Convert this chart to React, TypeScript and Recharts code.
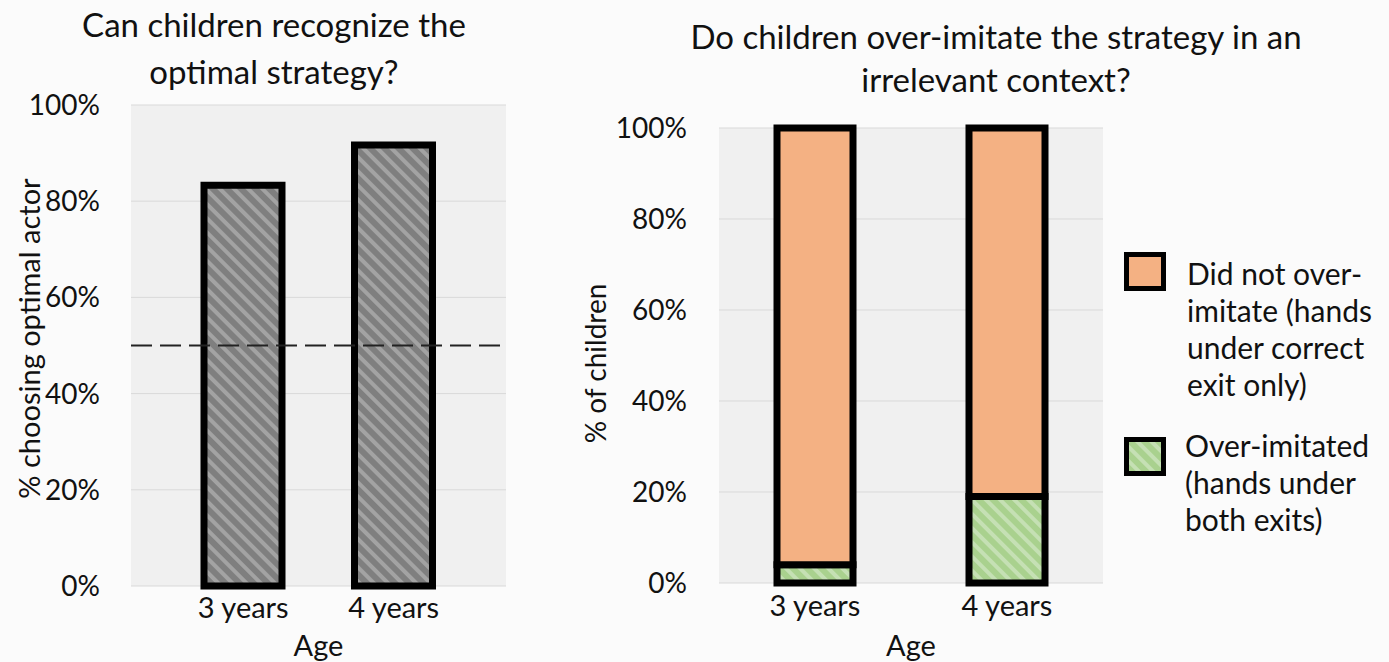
import React from "react";
import {
  Bar,
  BarChart,
  CartesianGrid,
  Label,
  ReferenceLine,
  XAxis,
  YAxis,
} from "recharts";

// data
const ages = ["3 years", "4 years"];
const optimalPct = [83.3, 91.7];
const overImitatedPct = [4, 19];
const notOverImitatedPct = [96, 81];
const yTicks = [0, 20, 40, 60, 80, 100];
const chanceLevel = 50;

const leftTitle = ["Can children recognize the", "optimal strategy?"];
const rightTitle = ["Do children over-imitate the strategy in an", "irrelevant context?"];
const legendNotOver = ["Did not over-", "imitate (hands", "under correct", "exit only)"];
const legendOver = ["Over-imitated", "(hands under", "both exits)"];

const leftData = ages.map((age, i) => ({ age, optimal: optimalPct[i] }));
const rightData = ages.map((age, i) => ({
  age,
  over: overImitatedPct[i],
  notOver: notOverImitatedPct[i],
}));

const FONT = "Lato, 'Open Sans', sans-serif";
const TXT = "#111";
const yTickStyle = { fontSize: 28, fill: TXT, fontFamily: FONT };
const xTickStyle = { fontSize: 29, fill: TXT, fontFamily: FONT };
const pct = (v: number) => `${v}%`;

const Hatch = ({ id, base, light }: { id: string; base: string; light: string }) => (
  <pattern
    id={id}
    patternUnits="userSpaceOnUse"
    width={10}
    height={10}
    patternTransform="rotate(-45)"
  >
    <rect x={0} y={0} width={10} height={10} fill={base} />
    <rect x={0} y={0} width={4} height={10} fill={light} />
  </pattern>
);

const App = () => {
  return (
    <div
      style={{
        position: "absolute",
        left: 0,
        top: 0,
        width: 1389,
        height: 662,
        background: "#fbfbfb",
        fontFamily: FONT,
        overflow: "hidden",
      }}
    >
      <div style={{ position: "absolute", left: 0, top: 0 }}>
        <BarChart
          width={560}
          height={662}
          data={leftData}
          margin={{ top: 105, right: 54, bottom: 0, left: 0 }}
        >
          <defs>
            <Hatch id="grayHatch" base="#7f7f7f" light="#a3a3a3" />
          </defs>
          <CartesianGrid vertical={false} stroke="#d9d9d9" fill="#f0f0f0" />
          <XAxis
            dataKey="age"
            height={76}
            axisLine={false}
            tickLine={false}
            tickSize={0}
            tickMargin={11}
            padding={{ left: 37, right: 37 }}
            tick={xTickStyle}
          >
            <Label
              value="Age"
              position="insideBottom"
              offset={6}
              style={{ fontSize: 29, fill: TXT, fontFamily: FONT }}
            />
          </XAxis>
          <YAxis
            width={131}
            domain={[0, 100]}
            ticks={yTicks}
            tickFormatter={pct}
            axisLine={false}
            tickLine={false}
            tickSize={0}
            tickMargin={31}
            tick={yTickStyle}
          >
            <Label
              value="% choosing optimal actor"
              angle={-90}
              position="insideLeft"
              offset={30}
              dy={-7}
              style={{ textAnchor: "middle", fontSize: 29, fill: TXT, fontFamily: FONT }}
            />
          </YAxis>
          <Bar
            dataKey="optimal"
            barSize={78}
            fill="url(#grayHatch)"
            stroke="#000"
            strokeWidth={7}
            isAnimationActive={false}
          />
          <ReferenceLine
            y={chanceLevel}
            stroke="#222"
            strokeWidth={2}
            strokeDasharray="21 8"
          />
        </BarChart>
      </div>

      <div style={{ position: "absolute", left: 540, top: 0 }}>
        <BarChart
          width={600}
          height={662}
          data={rightData}
          margin={{ top: 128, right: 37, bottom: 0, left: 0 }}
        >
          <defs>
            <Hatch id="greenHatch" base="#a9d18e" light="#c5e0b4" />
          </defs>
          <CartesianGrid vertical={false} stroke="#d9d9d9" fill="#f0f0f0" />
          <XAxis
            dataKey="age"
            height={79}
            axisLine={false}
            tickLine={false}
            tickSize={0}
            tickMargin={12}
            tick={xTickStyle}
          >
            <Label
              value="Age"
              position="insideBottom"
              offset={6}
              style={{ fontSize: 29, fill: TXT, fontFamily: FONT }}
            />
          </XAxis>
          <YAxis
            width={179}
            domain={[0, 100]}
            ticks={yTicks}
            tickFormatter={pct}
            axisLine={false}
            tickLine={false}
            tickSize={0}
            tickMargin={32}
            tick={yTickStyle}
          >
            <Label
              value="% of children"
              angle={-90}
              position="insideLeft"
              offset={56}
              dy={8}
              style={{ textAnchor: "middle", fontSize: 28, fill: TXT, fontFamily: FONT }}
            />
          </YAxis>
          <Bar
            dataKey="over"
            stackId="a"
            barSize={76}
            fill="url(#greenHatch)"
            stroke="#000"
            strokeWidth={7}
            isAnimationActive={false}
          />
          <Bar
            dataKey="notOver"
            stackId="a"
            barSize={76}
            fill="#f4b183"
            stroke="#000"
            strokeWidth={7}
            isAnimationActive={false}
          />
        </BarChart>
      </div>

      {/* titles and legend */}
      <svg
        width={1389}
        height={662}
        style={{ position: "absolute", left: 0, top: 0, pointerEvents: "none" }}
      >
        <defs>
          <Hatch id="legendGreen" base="#a9d18e" light="#c5e0b4" />
        </defs>
        <g fontFamily={FONT} fontSize={33} fill={TXT} textAnchor="middle">
          <text x={274} y={37}>{leftTitle[0]}</text>
          <text x={274} y={84}>{leftTitle[1]}</text>
          <text x={996} y={49}>{rightTitle[0]}</text>
          <text x={996} y={92}>{rightTitle[1]}</text>
        </g>
        <rect x={1126.5} y={254.5} width={37} height={34} fill="#f4b183" stroke="#000" strokeWidth={5} />
        <rect x={1126.5} y={439.5} width={37} height={34} fill="url(#legendGreen)" stroke="#000" strokeWidth={5} />
        <g fontFamily={FONT} fontSize={30} fill={TXT}>
          {legendNotOver.map((s, i) => (
            <text key={s} x={1187} y={285 + i * 37}>{s}</text>
          ))}
          {legendOver.map((s, i) => (
            <text key={s} x={1185} y={457 + i * 37}>{s}</text>
          ))}
        </g>
      </svg>
    </div>
  );
};

export default App;
